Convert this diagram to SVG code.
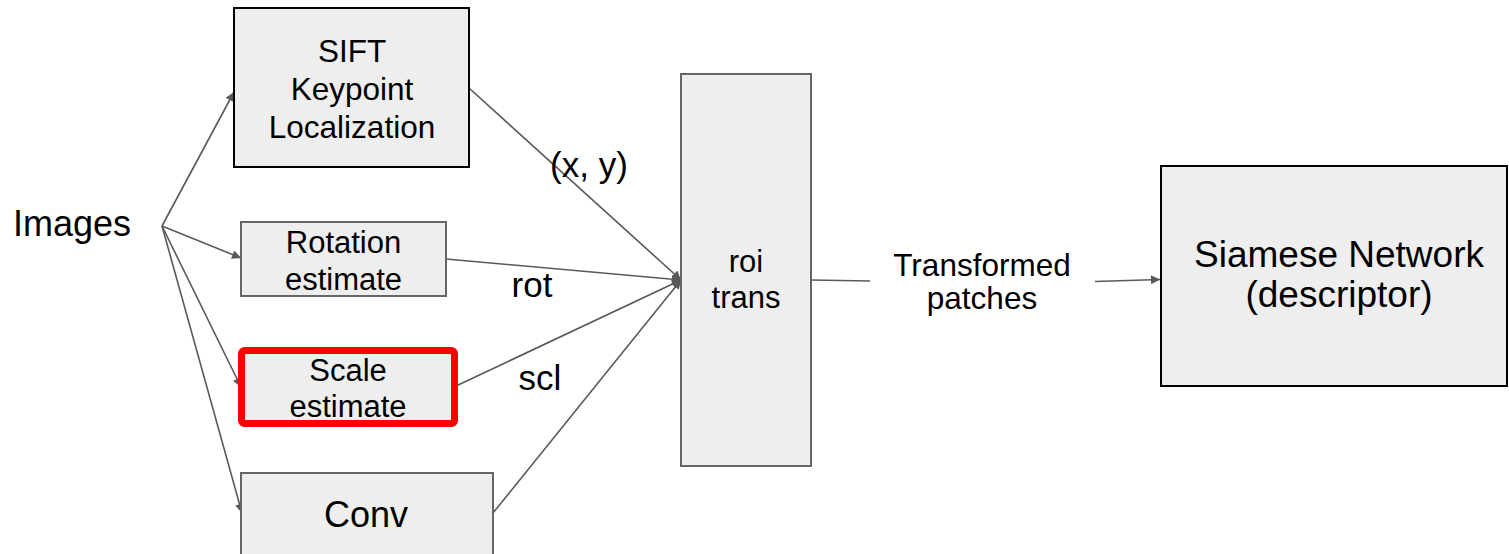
<svg xmlns="http://www.w3.org/2000/svg" width="1509" height="554" viewBox="0 0 1509 554">
<defs>
<style>
.box{fill:#eeeeee;stroke:#666666;stroke-width:2}
.dark{stroke:#000000}
.hl{fill:#eeeeee;stroke:#ff0000;stroke-width:7}
.t{font-family:"Liberation Sans",Arial,sans-serif;fill:#000000;text-anchor:middle}
.edge{fill:none;stroke:#595959;stroke-width:1.6}
</style>
<marker id="ah" viewBox="0 0 10 10" refX="10" refY="5" markerWidth="11" markerHeight="9" markerUnits="userSpaceOnUse" orient="auto">
<path d="M0,0 L10,5 L0,10 z" fill="#595959"/>
</marker>
</defs>
<rect width="1509" height="554" fill="#ffffff"/>
<g id="connectors">
<line class="edge" x1="162" y1="226" x2="234" y2="92" marker-end="url(#ah)"/>
<line class="edge" x1="162" y1="226" x2="241" y2="258" marker-end="url(#ah)"/>
<line class="edge" x1="162" y1="226" x2="241" y2="387" marker-end="url(#ah)"/>
<line class="edge" x1="162" y1="226" x2="242" y2="513" marker-end="url(#ah)"/>
<line class="edge" x1="469" y1="88" x2="681" y2="280" marker-end="url(#ah)"/>
<line class="edge" x1="446" y1="259" x2="681" y2="280" marker-end="url(#ah)"/>
<line class="edge" x1="456" y1="386" x2="681" y2="280" marker-end="url(#ah)"/>
<line class="edge" x1="493" y1="513" x2="681" y2="280" marker-end="url(#ah)"/>
<line class="edge" x1="811" y1="280" x2="870" y2="281"/>
<line class="edge" x1="1095" y1="281.5" x2="1160" y2="279.5" marker-end="url(#ah)"/>
<text class="t" x="589" y="177" font-size="35">(x, y)</text>
<text class="t" x="532" y="297" font-size="35">rot</text>
<text class="t" x="540" y="390" font-size="35">scl</text>
<text class="t" x="982" y="276" font-size="31.5">Transformed</text>
<text class="t" x="982" y="309" font-size="31.5">patches</text>
</g>
<g id="images">
<text class="t" x="72" y="236" font-size="36">Images</text>
</g>
<g id="sift">
<rect class="box dark" x="234" y="8" width="235" height="159"/>
<text class="t" x="352" y="62" font-size="31.5">SIFT</text>
<text class="t" x="352" y="100" font-size="31.5">Keypoint</text>
<text class="t" x="352" y="138" font-size="31.5">Localization</text>
</g>
<g id="rotation">
<rect class="box" x="241" y="222" width="205" height="74"/>
<text class="t" x="343.5" y="253" font-size="31">Rotation</text>
<text class="t" x="343.5" y="290" font-size="31">estimate</text>
</g>
<g id="scale">
<rect class="hl" x="241.5" y="350.5" width="213" height="73" rx="3"/>
<text class="t" x="348" y="381" font-size="31">Scale</text>
<text class="t" x="348" y="417" font-size="31">estimate</text>
</g>
<g id="conv">
<rect class="box" x="241" y="473" width="252" height="100"/>
<text class="t" x="366" y="527" font-size="36">Conv</text>
</g>
<g id="roi">
<rect class="box" x="681" y="74" width="130" height="392"/>
<text class="t" x="746" y="272" font-size="31">roi</text>
<text class="t" x="746" y="308" font-size="31">trans</text>
</g>
<g id="siamese">
<rect class="box dark" x="1161" y="166" width="346" height="220"/>
<text class="t" x="1339" y="267" font-size="37">Siamese Network</text>
<text class="t" x="1339" y="307" font-size="37">(descriptor)</text>
</g>
</svg>
